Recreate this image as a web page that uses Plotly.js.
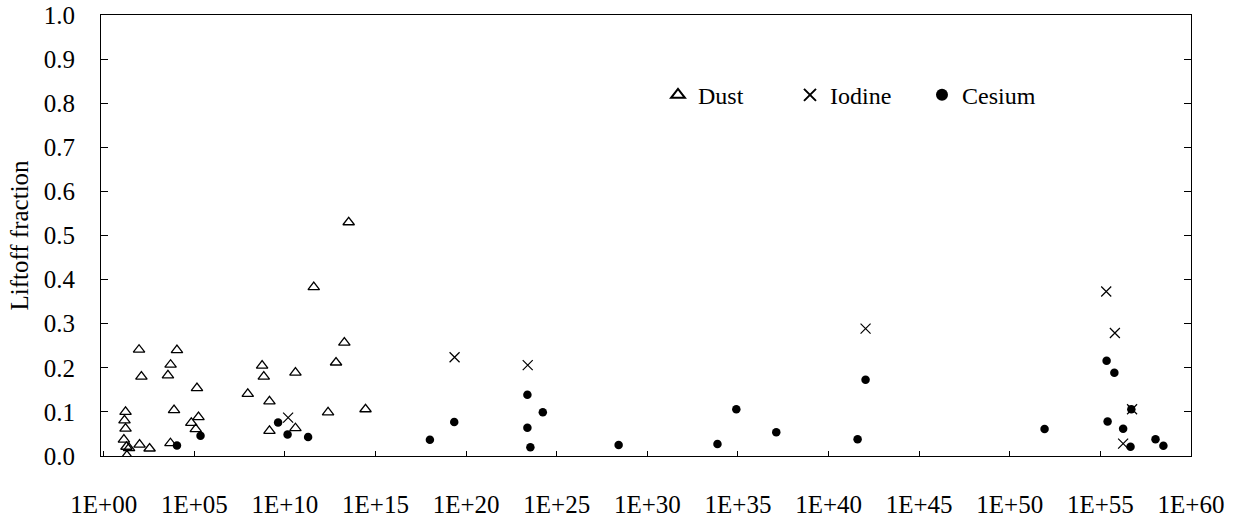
<!DOCTYPE html>
<html>
<head>
<meta charset="utf-8">
<script src="https://cdn.plot.ly/plotly-3.0.1.min.js"></script>
<style>html,body{margin:0;padding:0;background:#fff;}#chart{width:1238px;height:521px;}</style>
</head>
<body>
<div id="chart"></div>
<script>
// Dust
var dustX = [1.6e1, 1.4e1, 1.6e1, 1.3e1, 1.8e1, 2.5e1, 1.9e1, 8.9e1, 1.2e2, 9.5e1, 3.4e2,
  1.1e4, 4.9e3, 3.5e3, 7.6e3, 4.8e3, 1.4e5, 1.7e5, 6.8e4, 1.2e5,
  8.9e7, 5.5e8, 6.8e8, 1.4e9, 1.4e9, 3.8e10, 3.8e10, 3.9e11, 2.4e12, 6.6e12, 1.9e13, 3.3e13, 2.8e14];
var dustY = [0.100, 0.081, 0.062, 0.037, 0.021, 0.018, 0.001, 0.241, 0.180, 0.026, 0.017,
  0.240, 0.207, 0.183, 0.104, 0.029, 0.154, 0.088, 0.075, 0.061,
  0.141, 0.205, 0.180, 0.124, 0.057, 0.189, 0.063, 0.383, 0.099, 0.212, 0.257, 0.530, 0.106];
// Iodine
var iodineX = [1.5e10, 2.3e19, 2.5e23, 1.1e42, 2.1e55, 6.3e55, 5.6e56, 1.8e56];
var iodineY = [0.087, 0.224, 0.206, 0.289, 0.373, 0.279, 0.106, 0.028];
// Cesium
var cesiumX = [1.1e4, 2.2e5, 4.2e9, 1.4e10, 1.9e11, 1.0e18, 2.2e19, 2.4e23, 1.7e24, 2.4e23, 3.5e23,
  2.6e28, 7.4e33, 8.1e34, 1.3e37, 4.0e41, 1.1e42, 8.3e51, 2.2e55, 5.9e55, 2.5e55, 1.8e56,
  4.6e56, 5.1e56, 1.1e58, 3.0e58];
var cesiumY = [0.024, 0.046, 0.076, 0.049, 0.043, 0.037, 0.077, 0.139, 0.099, 0.064, 0.020,
  0.025, 0.027, 0.106, 0.054, 0.038, 0.173, 0.061, 0.216, 0.189, 0.078, 0.062,
  0.021, 0.106, 0.038, 0.023];
// Axis ticks
var xTickVals = [1e0, 1e5, 1e10, 1e15, 1e20, 1e25, 1e30, 1e35, 1e40, 1e45, 1e50, 1e55, 1e60];
var xTickText = ['1E+00', '1E+05', '1E+10', '1E+15', '1E+20', '1E+25', '1E+30', '1E+35', '1E+40', '1E+45', '1E+50', '1E+55', '1E+60'];
var yTitle = 'Liftoff fraction';

var FONT = '"Liberation Serif", "Times New Roman", serif';

var traces = [
  {x: dustX, y: dustY, name: 'Dust', type: 'scatter', mode: 'markers',
   marker: {symbol: 'triangle-up-open', size: 10, color: '#000', line: {width: 1.3, color: '#000'}}},
  {x: iodineX, y: iodineY, name: 'Iodine', type: 'scatter', mode: 'markers',
   marker: {symbol: 'x-thin-open', size: 10, color: '#000', line: {width: 1.2, color: '#000'}}},
  {x: cesiumX, y: cesiumY, name: 'Cesium', type: 'scatter', mode: 'markers',
   marker: {symbol: 'circle', size: 8.5, color: '#000'}}
];

var layout = {
  width: 1238, height: 521,
  paper_bgcolor: '#fff', plot_bgcolor: '#fff',
  margin: {l: 101, r: 47, t: 15, b: 65},
  font: {family: FONT, size: 24, color: '#000'},
  showlegend: true,
  legend: {orientation: 'h', x: 0.511, xanchor: 'left', y: 0.818, yanchor: 'middle',
    font: {family: FONT, size: 24, color: '#000'}, bgcolor: 'rgba(0,0,0,0)',
    entrywidth: 87, itemsizing: 'constant'},
  xaxis: {type: 'log', range: [-0.15, 60], tickmode: 'array', tickvals: xTickVals, ticktext: xTickText,
    ticks: 'inside', ticklen: 5, tickcolor: '#000', showgrid: false, zeroline: false,
    showline: true, linecolor: '#000', linewidth: 1, mirror: true,
    ticklabelstandoff: 26, tickfont: {family: FONT, size: 25, color: '#000'}},
  yaxis: {range: [0, 1], dtick: 0.1, tick0: 0, tickformat: '.1f',
    ticks: 'inside', ticklen: 7, tickcolor: '#000', showgrid: false, zeroline: false,
    showline: true, linecolor: '#000', linewidth: 1, mirror: 'ticks',
    ticklabelstandoff: 20, tickfont: {family: FONT, size: 25, color: '#000'},
    title: {text: yTitle, font: {family: FONT, size: 25, color: '#000'}, standoff: 8}}
};

Plotly.newPlot('chart', traces, layout, {staticPlot: true, displayModeBar: false});
</script>
</body>
</html>
